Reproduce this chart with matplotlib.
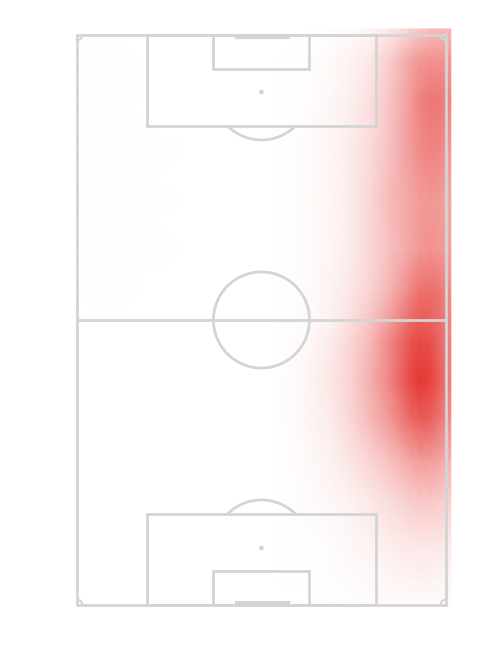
import matplotlib
matplotlib.use('Agg')
import matplotlib.pyplot as plt
from matplotlib.patches import Rectangle, Arc, Circle
from matplotlib.colors import LinearSegmentedColormap
import numpy as np

# pitch size in metres (vertical pitch, wyscout-style markings)
pitch_width = 68
pitch_length = 105

# heat grid nodes: across the pitch (left -> right) and along it (top -> bottom)
grid_x = [-1, 5, 12, 20, 28, 36, 42, 46.6, 50.3, 54, 57.7, 61.4, 63.2, 65.1, 67, 68.9]
grid_y = [106.1, 100.4, 93.0, 83.8, 74.6, 65.4, 58.0, 52.5, 48.8, 41.4, 34.1, 26.7, 19.3, 12.0, 4.6, 0.0]

# relative density, one row per grid_y value
density = [
    [0, 0, 0, 0, 0, 0, 0, 0.01, 0.02, 0.05, 0.12, 0.22, 0.28, 0.32, 0.35, 0.35],
    [0, 0.005, 0, 0, 0, 0, 0.01, 0.03, 0.06, 0.12, 0.25, 0.45, 0.52, 0.55, 0.55, 0.5],
    [0, 0.008, 0, 0, 0, 0, 0.015, 0.04, 0.08, 0.16, 0.3, 0.5, 0.62, 0.68, 0.68, 0.6],
    [0, 0.015, 0.005, 0, 0, 0, 0.02, 0.05, 0.1, 0.18, 0.32, 0.5, 0.58, 0.62, 0.6, 0.5],
    [0, 0.018, 0.006, 0, 0, 0, 0.02, 0.05, 0.1, 0.2, 0.35, 0.45, 0.5, 0.52, 0.5, 0.42],
    [0, 0.015, 0.005, 0, 0, 0, 0.02, 0.05, 0.1, 0.2, 0.32, 0.45, 0.52, 0.55, 0.52, 0.45],
    [0, 0.008, 0, 0, 0, 0, 0.02, 0.06, 0.12, 0.22, 0.38, 0.6, 0.7, 0.72, 0.68, 0.55],
    [0, 0, 0, 0, 0, 0, 0.02, 0.07, 0.15, 0.3, 0.5, 0.75, 0.82, 0.8, 0.72, 0.6],
    [0, 0, 0, 0, 0, 0, 0.03, 0.1, 0.2, 0.35, 0.6, 0.85, 0.9, 0.88, 0.75, 0.6],
    [0, 0, 0, 0, 0, 0, 0.04, 0.12, 0.22, 0.4, 0.62, 0.92, 1.0, 0.95, 0.8, 0.62],
    [0, 0, 0, 0, 0, 0, 0.04, 0.1, 0.2, 0.35, 0.52, 0.75, 0.82, 0.8, 0.68, 0.55],
    [0, 0, 0, 0, 0, 0, 0.03, 0.07, 0.13, 0.22, 0.32, 0.45, 0.5, 0.5, 0.45, 0.38],
    [0, 0, 0, 0, 0, 0, 0.02, 0.04, 0.07, 0.12, 0.18, 0.25, 0.28, 0.28, 0.26, 0.22],
    [0, 0, 0, 0, 0, 0, 0.01, 0.02, 0.04, 0.07, 0.1, 0.13, 0.14, 0.14, 0.13, 0.11],
    [0, 0, 0, 0, 0, 0, 0.005, 0.015, 0.02, 0.035, 0.045, 0.055, 0.06, 0.06, 0.055, 0.05],
    [0, 0, 0, 0, 0, 0, 0, 0.01, 0.015, 0.02, 0.025, 0.03, 0.03, 0.03, 0.03, 0.03],
]

line_color = '#d4d4d4'
heat_color = '#e53935'

fig = plt.figure(figsize=(5, 6.5), dpi=100)
ax = fig.add_axes([0.1322, 0.0525, 0.7814, 0.9105])
ax.set_xlim(-2, 70)
ax.set_ylim(-2, 107)
ax.axis('off')

# heatmap (white -> red), opaque so gouraud triangles don't show seams
cmap = LinearSegmentedColormap.from_list('heat', ['white', heat_color])
ax.pcolormesh(grid_x, grid_y, np.array(density), cmap=cmap, vmin=0, vmax=1,
              shading='gouraud', antialiased=False, zorder=1)

lw = 2
kw = dict(fill=False, ec=line_color, lw=lw, zorder=2)

# outline + halfway line
ax.add_patch(Rectangle((0, 0), pitch_width, pitch_length, **kw))
ax.plot([0, pitch_width], [pitch_length / 2, pitch_length / 2], color=line_color, lw=lw, zorder=2)

cx = pitch_width / 2
circle_r = 8.85
ax.add_patch(Circle((cx, pitch_length / 2), circle_r, **kw))

# boxes, spots, arcs and goals at both ends
box_w = 0.62 * pitch_width
box_d = 16.8
six_w = 0.26 * pitch_width
six_d = 6.2
spot_d = 10.5
goal_x = [29.5, 38.9]

for end in ['top', 'bottom']:
    if end == 'top':
        y0 = pitch_length - box_d
        y6 = pitch_length - six_d
        ys = pitch_length - spot_d
        gy = pitch_length - 0.35
        a1, a2 = 225.4, 314.6
    else:
        y0 = 0
        y6 = 0
        ys = spot_d
        gy = 0.35
        a1, a2 = 45.4, 134.6
    ax.add_patch(Rectangle((cx - box_w / 2, y0), box_w, box_d, **kw))
    ax.add_patch(Rectangle((cx - six_w / 2, y6), six_w, six_d, **kw))
    ax.add_patch(Circle((cx, ys), 0.3, color=line_color, zorder=2))
    ax.add_patch(Arc((cx, ys), 2 * circle_r, 2 * circle_r, theta1=a1, theta2=a2,
                     ec=line_color, lw=lw, zorder=2))
    ax.plot(goal_x, [gy, gy], color=line_color, lw=3, zorder=2)

# corner arcs
for (x, y, t1) in [(0, 0, 0), (pitch_width, 0, 90), (pitch_width, pitch_length, 180), (0, pitch_length, 270)]:
    ax.add_patch(Arc((x, y), 2, 2, theta1=t1, theta2=t1 + 90, ec=line_color, lw=1.5, zorder=2))

plt.savefig('out.png', dpi=100, facecolor='white')
